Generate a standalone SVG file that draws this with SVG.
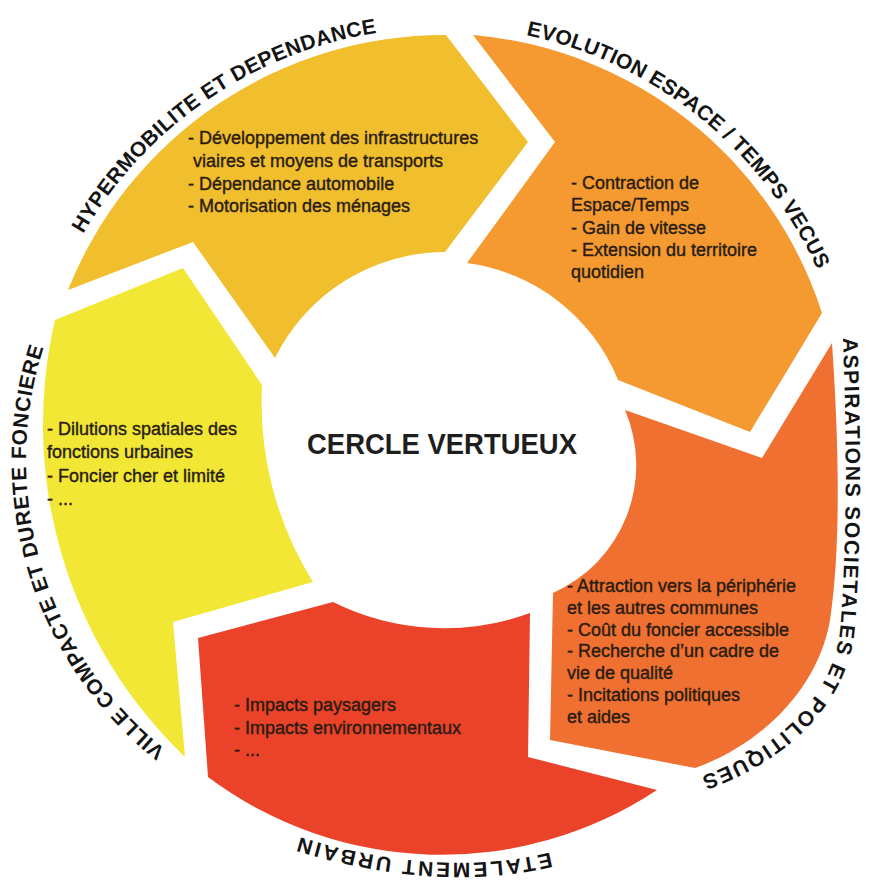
<svg xmlns="http://www.w3.org/2000/svg" width="876" height="881" viewBox="0 0 876 881">
<style>
.body{font-family:"Liberation Sans",Arial,sans-serif;font-size:18px;fill:#2a1c12;stroke:#2a1c12;stroke-width:0.4px}
.label{font-family:"Liberation Sans",Arial,sans-serif;font-weight:bold;font-size:21px;fill:#141414}
.title{font-family:"Liberation Sans",Arial,sans-serif;font-weight:bold;font-size:29px;fill:#1e1e1e}
</style>
<defs>
<path id="p1" d="M 83.2 234 A 412 412 0 0 1 379.1 32.5"/>
<path id="p2" d="M 526.1 35.1 A 414 414 0 0 1 818.2 271.6"/>
<path id="p3" d="M 843 338 C 846 420 848 540 840 630 C 834 690 785 748 697 778"/>
<path id="p4" d="M 552 852 Q 440 880 296 836"/>
<path id="p5" d="M 165.7 749.6 A 370 370 0 0 1 44.1 345.7"/>
</defs>
<rect width="876" height="881" fill="#ffffff"/>

<g id="hypermobilite">
<path d="M 68 290 A 405 405 0 0 1 446 35 L 528 142 L 445 252 A 190 190 0 0 0 275 358 L 193 242 Z" fill="#F1BE2D"/>
<text class="label"><textPath href="#p1" textLength="368" lengthAdjust="spacing">HYPERMOBILITE ET DEPENDANCE</textPath></text>
<text class="body" x="188" y="144">- Développement des infrastructures</text>
<text class="body" x="193" y="167">viaires et moyens de transports</text>
<text class="body" x="188" y="190">- Dépendance automobile</text>
<text class="body" x="188" y="212">- Motorisation des ménages</text>
</g>

<g id="evolution">
<path d="M 473 35 A 403 403 0 0 1 822 313 L 750 432 L 618 380 A 190 190 0 0 0 467 263 L 555 142 Z" fill="#F49A31"/>
<text class="label"><textPath href="#p2" textLength="388" lengthAdjust="spacing">EVOLUTION ESPACE / TEMPS VECUS</textPath></text>
<text class="body" x="571" y="189">- Contraction de</text>
<text class="body" x="571" y="211">Espace/Temps</text>
<text class="body" x="571" y="234">- Gain de vitesse</text>
<text class="body" x="571" y="256">- Extension du territoire</text>
<text class="body" x="571" y="278">quotidien</text>
</g>

<g id="aspirations">
<path d="M 625 410 L 762 458 L 832 343 C 838 430 842 540 830 620 C 818 690 760 745 695 768 L 550 740 L 553 593 A 140 140 0 0 0 625 410 Z" fill="#EF7030"/>
<text class="label"><textPath href="#p3" textLength="505" lengthAdjust="spacing">ASPIRATIONS SOCIETALES ET POLITIQUES</textPath></text>
<text class="body" x="567" y="592">- Attraction vers la périphérie</text>
<text class="body" x="567" y="614">et les autres communes</text>
<text class="body" x="567" y="636">- Coût du foncier accessible</text>
<text class="body" x="567" y="657">- Recherche d’un cadre de</text>
<text class="body" x="567" y="679">vie de qualité</text>
<text class="body" x="567" y="701">- Incitations politiques</text>
<text class="body" x="567" y="723">et aides</text>
</g>

<g id="etalement">
<path d="M 198 638 L 333 602 A 250 250 0 0 0 530 613 L 528 757 L 657 790 A 390 390 0 0 1 208 777 Z" fill="#EB432A"/>
<text class="label"><textPath href="#p4" startOffset="2" textLength="254" lengthAdjust="spacing">ETALEMENT URBAIN</textPath></text>
<text class="body" x="234" y="711">- Impacts paysagers</text>
<text class="body" x="234" y="734">- Impacts environnementaux</text>
<text class="body" x="234" y="756">- ...</text>
</g>

<g id="ville-compacte">
<path d="M 55 320 L 183 268 L 262 385 A 340 340 0 0 0 313 582 L 173 622 L 185 757 A 460 460 0 0 1 55 320 Z" fill="#F2E734"/>
<text class="label"><textPath href="#p5" textLength="447" lengthAdjust="spacing">VILLE COMPACTE ET DURETE FONCIERE</textPath></text>
<text class="body" x="47" y="435">- Dilutions spatiales des</text>
<text class="body" x="47" y="458">fonctions urbaines</text>
<text class="body" x="47" y="482">- Foncier cher et limité</text>
<text class="body" x="47" y="505">- ...</text>
</g>

<g id="centre">
<text class="title" x="442" y="454" text-anchor="middle" textLength="270" lengthAdjust="spacingAndGlyphs">CERCLE VERTUEUX</text>
</g>
<g id="connectors"/>
</svg>
